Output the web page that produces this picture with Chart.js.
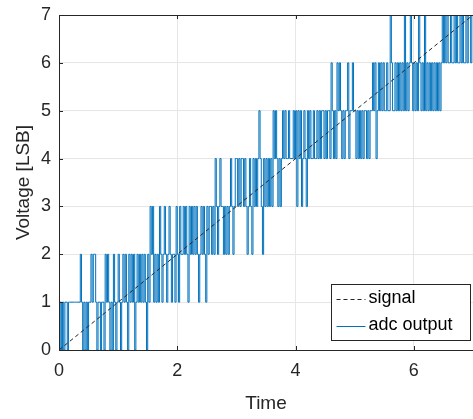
<!DOCTYPE html>
<html>
<head>
<meta charset="utf-8">
<script src="https://cdn.jsdelivr.net/npm/chart.js@4/dist/chart.umd.min.js"></script>
<style>
html,body{margin:0;padding:0;background:#fff;}
#wrap{width:473px;height:419px;position:relative;}
</style>
</head>
<body>
<div id="wrap"><canvas id="c" width="473" height="419"></canvas></div>
<script>
// ---- data ----
const sampleStep = 0.02;           // time between ADC samples
const signalX = [0, 7];            // ideal ramp endpoints
const signalY = [0, 7];
// ADC output codes, one array per unit of time (50 samples each)
const adc0 = [0,1,0,1,0,1,1,0,1,1, 1,1,1,1,1,1,1,1,2,1, 0,1,0,1,0,1,1,2,1,2, 2,1,0,1,1,0,1,1,0,2, 1,2,1,0,1,0,2,1,0,1];
const adc1 = [2,1,0,1,2,1,2,1,0,2, 1,2,1,2,0,1,2,1,2,1, 2,1,2,1,0,2,1,3,2,3, 1,2,1,2,1,3,2,1,2,3, 2,1,2,3,2,1,2,2,1,3];
const adc2 = [2,1,3,2,2,3,2,3,2,1, 3,2,3,2,3,2,3,2,1,2, 3,2,3,2,1,3,2,3,3,2, 3,2,4,3,2,3,4,3,3,2, 3,2,3,2,3,4,3,2,3,4];
const adc3 = [4,3,4,3,4,4,3,4,3,2, 3,4,3,2,4,3,4,3,4,5, 4,3,2,4,3,4,3,4,3,4, 3,5,4,5,4,3,4,3,4,5, 4,5,4,4,5,4,4,4,5,4];
const adc4 = [5,3,5,4,5,3,4,5,4,3, 5,4,5,4,4,5,4,4,5,4, 5,4,5,5,4,5,4,5,5,4, 6,5,4,5,4,6,5,6,5,4, 5,4,5,5,6,4,5,5,6,5];
const adc5 = [5,4,5,4,5,4,5,4,5,5, 4,5,4,5,5,6,5,6,4,5, 6,5,6,5,6,5,5,6,5,5, 7,6,5,5,6,5,6,5,6,5, 6,5,7,5,6,5,6,7,6,5];
const adc6 = [6,5,6,5,7,6,5,6,5,7, 5,6,5,6,5,6,5,6,5,6, 5,6,5,6,7,6,7,6,7,6, 6,7,6,6,7,6,7,6,6,7, 6,7,6,6,7,6,7,7,6,7];
const adcLast = 7;
const xTicks = [0, 2, 4, 6];
const yTicks = [0, 1, 2, 3, 4, 5, 6, 7];

const adcCodes = [].concat(adc0, adc1, adc2, adc3, adc4, adc5, adc6, [adcLast]);
const adcPts = adcCodes.map((v, i) => ({x: +(i * sampleStep).toFixed(2), y: v}));
const sigPts = signalX.map((x, i) => ({x: x, y: signalY[i]}));

const TXT = '#262626';
const FONT = '"Liberation Sans", Arial, Helvetica, sans-serif';
const BLUE = '#0072BD';

const framePlugin = {
  id: 'frame',
  afterDatasetsDraw(chart) {
    const {ctx, chartArea: a, scales} = chart;
    ctx.save();
    ctx.strokeStyle = TXT;
    ctx.lineWidth = 1;
    ctx.beginPath();
    ctx.moveTo(a.left, a.top + 0.5); ctx.lineTo(a.right, a.top + 0.5);
    ctx.moveTo(a.left + 0.5, a.top); ctx.lineTo(a.left + 0.5, a.bottom);
    ctx.moveTo(a.left, a.bottom + 0.5); ctx.lineTo(a.right, a.bottom + 0.5);
    // inward tick marks
    xTicks.forEach(v => {
      const px = Math.round(scales.x.getPixelForValue(v)) + 0.5;
      ctx.moveTo(px, a.bottom); ctx.lineTo(px, a.bottom - 4);
      ctx.moveTo(px, a.top); ctx.lineTo(px, a.top + 4);
    });
    yTicks.forEach(v => {
      const py = Math.round(scales.y.getPixelForValue(v)) + 0.5;
      ctx.moveTo(a.left, py); ctx.lineTo(a.left + 4, py);
    });
    ctx.stroke();

    // legend box
    const bx = 331.5, by = 284.5, bw = 139, bh = 56;
    ctx.fillStyle = '#fff';
    ctx.fillRect(bx, by, bw, bh);
    ctx.strokeStyle = TXT;
    ctx.strokeRect(bx, by, bw, bh);
    const items = chart.data.datasets;
    ctx.font = '18px ' + FONT;
    ctx.textBaseline = 'middle';
    ctx.textAlign = 'left';
    items.forEach((ds, i) => {
      const y = by + 14 + i * 27;
      ctx.beginPath();
      ctx.strokeStyle = ds.borderColor;
      ctx.lineWidth = 1;
      ctx.setLineDash(ds.borderDash || []);
      ctx.moveTo(bx + 5, Math.round(y) + 0.5);
      ctx.lineTo(bx + 34, Math.round(y) + 0.5);
      ctx.stroke();
      ctx.setLineDash([]);
      ctx.fillStyle = '#000';
      ctx.fillText(ds.label, bx + 37, y);
    });
    ctx.restore();
  }
};

new Chart(document.getElementById('c'), {
  type: 'line',
  data: {
    datasets: [
      {label: 'signal', data: sigPts, borderColor: '#262626', borderWidth: 1, borderDash: [4, 3],
       pointRadius: 0, fill: false, tension: 0},
      {label: 'adc output', data: adcPts, borderColor: BLUE, borderWidth: 1,
       pointRadius: 0, fill: false, stepped: 'before', tension: 0}
    ]
  },
  options: {
    responsive: false,
    animation: false,
    events: [],
    layout: {padding: {top: 15, right: 0, left: 0, bottom: 0}},
    plugins: {legend: {display: false}, tooltip: {enabled: false}},
    scales: {
      x: {
        type: 'linear', min: 0, max: 7,
        afterFit(s) { s.height = 69; s.paddingLeft = 0; s.paddingRight = 0; },
        afterBuildTicks(s) { s.ticks = xTicks.map(v => ({value: v})); },
        grid: {color: '#e6e6e6', drawTicks: false, lineWidth: 1},
        border: {display: false},
        ticks: {color: TXT, font: {family: FONT, size: 18}, padding: 10, maxRotation: 0},
        title: {display: true, text: 'Time', color: TXT, font: {family: FONT, size: 19}, padding: {top: 2, bottom: 4}}
      },
      y: {
        type: 'linear', min: 0, max: 7,
        afterFit(s) { s.width = 59; s.paddingTop = 0; s.paddingBottom = 0; },
        afterBuildTicks(s) { s.ticks = yTicks.map(v => ({value: v})); },
        grid: {color: '#e6e6e6', drawTicks: false, lineWidth: 1},
        border: {display: false},
        ticks: {color: TXT, font: {family: FONT, size: 18}, padding: 8},
        title: {display: true, text: 'Voltage [LSB]', color: TXT, font: {family: FONT, size: 19}, padding: {top: 12, bottom: 2}}
      }
    }
  },
  plugins: [framePlugin]
});
</script>
</body>
</html>
